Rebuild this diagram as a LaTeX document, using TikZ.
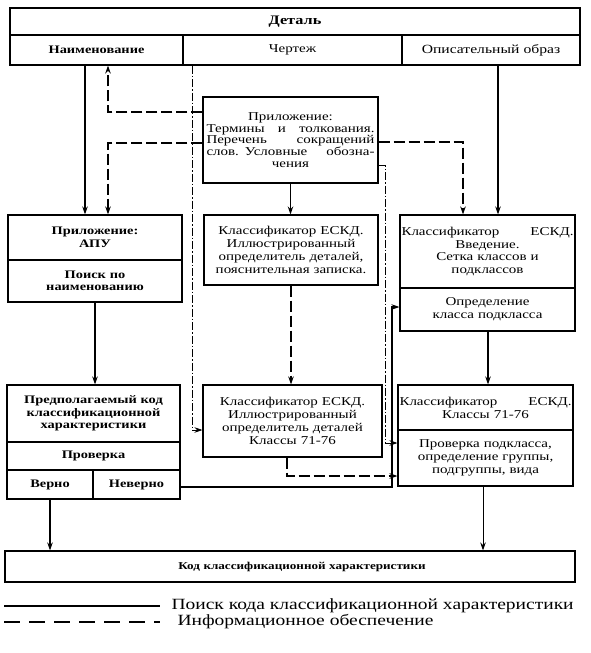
\documentclass[tikz,border=0pt]{standalone}
\usepackage{fontspec}
\setmainfont{Liberation Serif}[FakeStretch=1.25]
\usetikzlibrary{arrows.meta}
\newcommand{\jl}[1]{\makebox[\linewidth][s]{\spaceskip=0.3em plus 1fil\relax #1}}
\begin{document}
\begin{tikzpicture}[x=1pt,y=-1pt,
  every node/.style={font=\fontsize{12}{12.8}\selectfont},
  cell/.style={draw, line width=1.1pt, inner sep=1.5pt, align=center, anchor=center},
  boldtxt/.style={font=\fontsize{11.5}{12.5}\selectfont\bfseries},
  solidln/.style={line width=1.2pt},
  infoln/.style={line width=1.6pt, dash pattern=on 11pt off 4pt},
  dotln/.style={line width=0.8pt, dash pattern=on 8pt off 2pt on 1.5pt off 2pt},
  arr/.style={-{Stealth[length=8pt,width=5.5pt]}},
]
\useasboundingbox (0,0) rectangle (590,653);
% top block
\node[cell, minimum width=570pt, minimum height=27pt, text width=560pt, font=\fontsize{13}{14}\selectfont\bfseries] (detal) at (295,21.5) {Деталь};
\node[cell, boldtxt, minimum width=173pt, minimum height=30pt, text width=167pt] (naim) at (96.5,50) {Наименование};
\node[cell, minimum width=219pt, minimum height=30pt, text width=213pt] (chert) at (292.5,50) {Чертеж};
\node[cell, minimum width=178pt, minimum height=30pt, text width=172pt, font=\fontsize{12.5}{13}\selectfont] (opis) at (491,50) {Описательный образ};
% appendix
\node[cell, minimum width=175pt, minimum height=86pt, text width=168pt, font=\fontsize{12}{11.8}\selectfont] (app1) at (290.5,140) {Приложение:\\\jl{Термины и толкования.}\\\jl{Перечень сокращений}\\\jl{слов. Условные обозна-}\\чения};
% second row
\node[cell, boldtxt, minimum width=174pt, minimum height=45pt, text width=168pt] (apu1) at (95,237.5) {Приложение:\\АПУ};
\node[cell, boldtxt, minimum width=174pt, minimum height=42pt, text width=168pt] (apu2) at (95,281) {Поиск по\\наименованию};
\node[cell, minimum width=174pt, minimum height=70pt, text width=170pt] (kl1) at (291,250) {Классификатор ЕСКД.\\Иллюстрированный\\определитель деталей,\\пояснительная записка.};
\node[cell, minimum width=175pt, minimum height=73pt, text width=172pt, inner sep=0.5pt] (kl2a) at (487.5,251.5) {\jl{Классификатор ЕСКД.}\\Введение.\\Сетка классов и\\подклассов};
\node[cell, minimum width=175pt, minimum height=43pt, text width=168pt] (kl2b) at (487.5,309.5) {Определение\\класса подкласса};
% third row
\node[cell, boldtxt, minimum width=173pt, minimum height=57pt, text width=168pt] (pred) at (93.5,413.5) {Предполагаемый код\\классификационной\\характеристики};
\node[cell, boldtxt, minimum width=173pt, minimum height=28pt, text width=168pt] (prov) at (93.5,456) {Проверка};
\node[cell, boldtxt, minimum width=86pt, minimum height=29pt, text width=80pt] (verno) at (50,484.5) {Верно};
\node[cell, boldtxt, minimum width=87pt, minimum height=29pt, text width=81pt] (neverno) at (136.5,484.5) {Неверно};
\node[cell, minimum width=179pt, minimum height=72pt, text width=172pt] (kl3) at (292.5,421) {Классификатор ЕСКД.\\Иллюстрированный\\определитель деталей\\Классы 71-76};
\node[cell, minimum width=175pt, minimum height=45pt, text width=172pt, inner sep=0.5pt] (kl4a) at (485.5,407.5) {\jl{Классификатор ЕСКД.}\\Классы 71-76};
\node[cell, minimum width=175pt, minimum height=56pt, text width=168pt] (kl4b) at (485.5,458) {Проверка подкласса,\\определение группы,\\подгруппы, вида};
% result
\node[cell, minimum width=570pt, minimum height=31pt, text width=560pt, font=\fontsize{10.5}{12}\selectfont\bfseries] (code) at (290,566.5) {\hspace*{24pt}Код классификационной характеристики};
% connectors
\draw[solidln, arr] (85,0 |- naim.south) -- (85,0 |- apu1.north);
\draw[infoln, arr] (app1.west |- 0,112) -| (108,0 |- naim.south);
\draw[infoln, arr] (app1.west |- 0,143) -| (108,0 |- apu1.north);
\draw[dotln, arr] (192,0 |- chert.south) |- (kl3.west |- 0,430);
\draw[solidln, arr] (app1.south) -- (app1.south |- kl1.north);
\draw[infoln, arr] (app1.east |- 0,142) -| (463,0 |- kl2a.north);
\draw[solidln, arr] (498,0 |- opis.south) -- (498,0 |- kl2a.north);
\draw[dotln, arr] (app1.east |- 0,165) -- (385,165) |- (kl4b.west |- 0,443);
\draw[solidln, arr] (apu2.south) -- (apu2.south |- pred.north);
\draw[infoln, arr] (kl1.south) -- (kl1.south |- kl3.north);
\draw[solidln, arr] (488,0 |- kl2b.south) -- (488,0 |- kl4a.north);
\draw[infoln, arr] (287,0 |- kl3.south) |- (kl4b.west |- 0,476);
\draw[solidln, arr] (neverno.east |- 0,487) -- (392,487) |- (kl2b.west |- 0,307);
\draw[solidln, arr] (verno.south) -- (verno.south |- code.north);
\draw[line width=1pt, arr] (483,0 |- kl4b.south) -- (483,0 |- code.north);
% legend
\coordinate (l1a) at (4,606);
\coordinate (l1b) at (160,606);
\draw[solidln] (l1a) -- (l1b);
\node[anchor=west, font=\fontsize{15.6}{16}\selectfont] (leg1) at (168,606) {Поиск кода классификационной характеристики};
\coordinate (l2a) at (4,622);
\coordinate (l2b) at (160,622);
\draw[line width=1.3pt, dash pattern=on 16pt off 9pt] (l2a) -- (l2b);
\node[anchor=west, font=\fontsize{15.6}{16}\selectfont] (leg2) at (174,622) {Информационное обеспечение};
\end{tikzpicture}
\end{document}
